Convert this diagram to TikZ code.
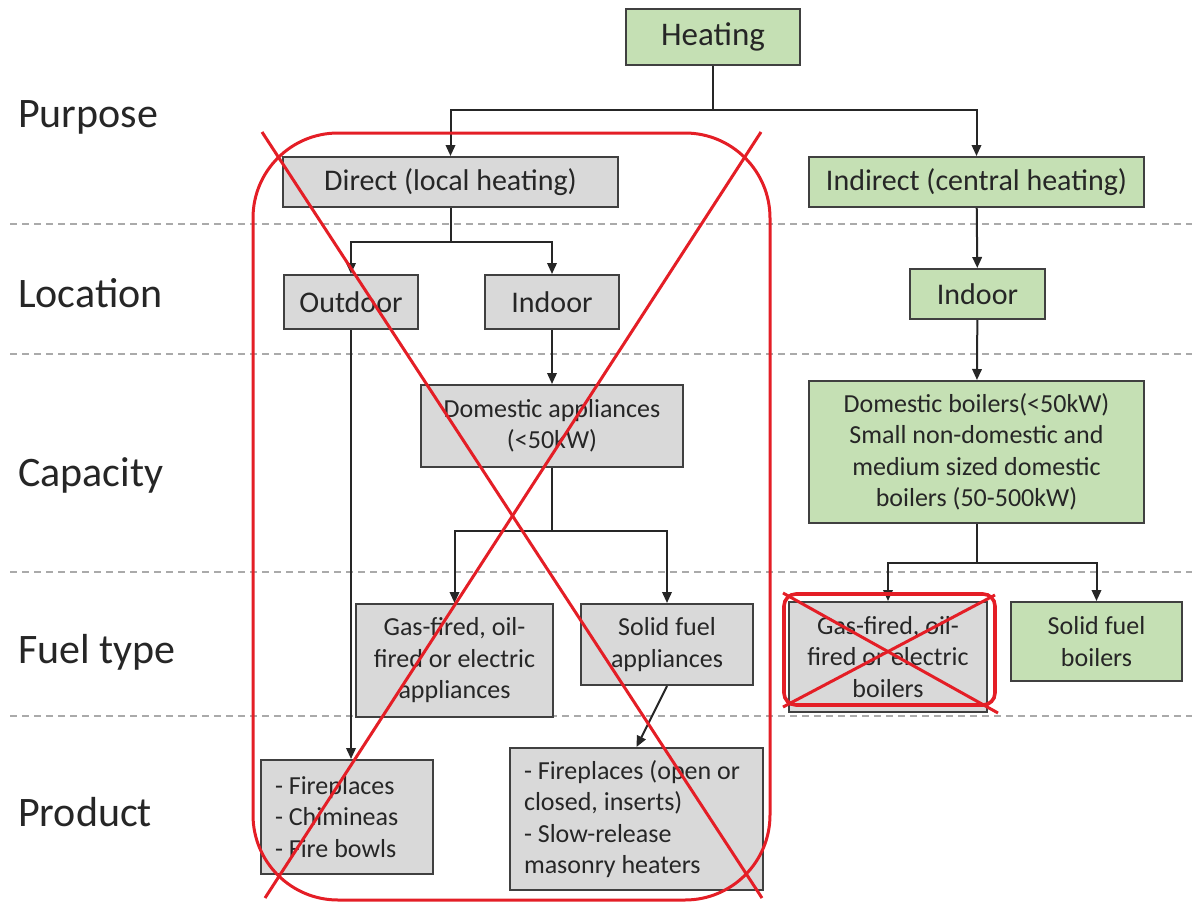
\documentclass[tikz,border=0pt]{standalone}
\usepackage{fontspec}
\setmainfont{Carlito}
\usetikzlibrary{arrows.meta}
\definecolor{leaf}{RGB}{197,224,180}
\definecolor{ash}{RGB}{217,217,217}
\definecolor{edge}{RGB}{64,64,64}
\definecolor{ink}{RGB}{38,38,38}
\definecolor{strike}{RGB}{228,30,38}
\definecolor{rule}{RGB}{170,170,170}
\tikzset{
  % a box of the chart
  bx/.style   = {draw=edge, line width=2, text=ink, align=flush center,
                 inner sep=0pt, font=\fontsize{30}{36}\selectfont},
  % a branch that is kept
  gbx/.style  = {bx, fill=leaf},
  % a branch that is ruled out
  xbx/.style  = {bx, fill=ash},
  % smaller type for boxes of several lines
  sm/.style   = {font=\fontsize{26}{31.5}\selectfont},
  % a dashed list of products
  lst/.style  = {sm, align=flush left, inner xsep=14pt},
  % a connector with a tip, and one without
  tr/.style   = {-{Triangle[length=11pt,width=9.5pt]}, line width=2, draw=ink},
  ln/.style   = {line width=2, draw=ink},
  % the level names on the left
  lab/.style  = {anchor=base west, inner sep=0pt, text=ink,
                 font=\fontsize{42}{50}\selectfont},
  % the dashed rule between two levels
  sep/.style  = {draw=rule, line width=2, dash pattern=on 7pt off 5pt},
  % the red strike-out
  cross/.style = {draw=strike, line width=3},
}

\begin{document}
\begin{tikzpicture}[x=1pt, y=-1pt]
  \useasboundingbox (0,0) rectangle (1192,902);
  % levels
  \foreach \y in {224,354,572,716}
    \draw[sep] (10,\y) -- (1192,\y);
  \node[lab] (lpurp) at (18,127) {Purpose};
  \node[lab] (lloc)  at (18,307) {Location};
  \node[lab] (lcap)  at (18,486) {Capacity};
  \node[lab] (lfuel) at (18,663) {Fuel type};
  \node[lab] (lprod) at (18,826) {Product};

  % boxes
  \node[gbx, minimum width=174, minimum height=56,
        font=\fontsize{33}{38}\selectfont] (heat) at (713,37) {Heating};
  \node[xbx, minimum width=335, minimum height=50] (direct) at (450.5,182) {Direct (local heating)};
  \node[gbx, minimum width=335, minimum height=50] (indirect) at (976.5,182) {Indirect (central heating)};
  \node[xbx, minimum width=134, minimum height=54] (outdoor) at (351,302) {Outdoor};
  \node[xbx, minimum width=134, minimum height=54] (indoor) at (552,302) {Indoor};
  \node[gbx, minimum width=135, minimum height=50] (cindoor) at (977.5,294) {Indoor};
  \node[xbx, sm, minimum width=262, minimum height=82] (domapp) at (552,426)
    {Domestic appliances\\(<50kW)};
  \node[gbx, sm, minimum width=335, minimum height=142] (boilers) at (976.5,452)
    {Domestic boilers(<50kW)\\Small non-domestic and\\medium sized domestic\\boilers (50-500kW)};
  \node[xbx, sm, minimum width=197, minimum height=113] (gasapp) at (454.5,660.5)
    {Gas-fired, oil-\\fired or electric\\appliances};
  \node[xbx, sm, minimum width=172, minimum height=81] (solidapp) at (667,644.5)
    {Solid fuel\\appliances};
  \node[xbx, sm, minimum width=198, minimum height=110] (gasboil) at (888,657)
    {Gas-fired, oil-\\fired or electric\\boilers};
  \node[gbx, sm, minimum width=171, minimum height=79] (solidboil) at (1096.5,641.5)
    {Solid fuel\\boilers};
  \node[xbx, lst, text width=144, minimum height=114] (fire) at (347,817)
    {- Fireplaces\\- Chimineas\\- Fire bowls};
  \node[xbx, lst, text width=225, minimum height=142] (masonry) at (636.5,819)
    {- Fireplaces (open or\\closed, inserts)\\- Slow-release\\masonry heaters};

  % connectors
  \coordinate (hj) at (713,110);
  \draw[ln] (heat) -- (hj);
  \draw[tr] (hj) -| (direct);
  \draw[tr] (hj) -| (indirect);
  \coordinate (dj) at (450.5,242);
  \draw[ln] (direct) -- (dj);
  \draw[tr] (dj) -| (outdoor);
  \draw[tr] (dj) -| (indoor);
  \draw[tr] (indoor) -- (domapp);
  \draw[tr] (outdoor.south) -- (outdoor.south |- fire.north);
  \coordinate (aj) at (552,531);
  \draw[ln] (domapp) -- (aj);
  \draw[tr] (aj) -| (gasapp);
  \draw[tr] (aj) -| (solidapp);
  \draw[tr] (solidapp.south) -- (masonry.north);
  \draw[tr] (indirect) -- (cindoor);
  \draw[tr] (cindoor) -- (boilers);
  \coordinate (bj) at (976.5,563);
  \draw[ln] (boilers) -- (bj);
  \draw[tr] (bj) -| (gasboil);
  \draw[tr] (bj) -| (solidboil);

  % struck out
  \draw[cross, rounded corners=85] (253,133) rectangle (770,900);
  \draw[cross] (262,132) -- (762,898);
  \draw[cross] (761,132) -- (265,898);
  \draw[cross, line width=3.6, rounded corners=12] (784,594) rectangle (995,705);
  \draw[cross] (783,593) -- (998,713);
  \draw[cross] (995,595) -- (783,707);
\end{tikzpicture}
\end{document}
